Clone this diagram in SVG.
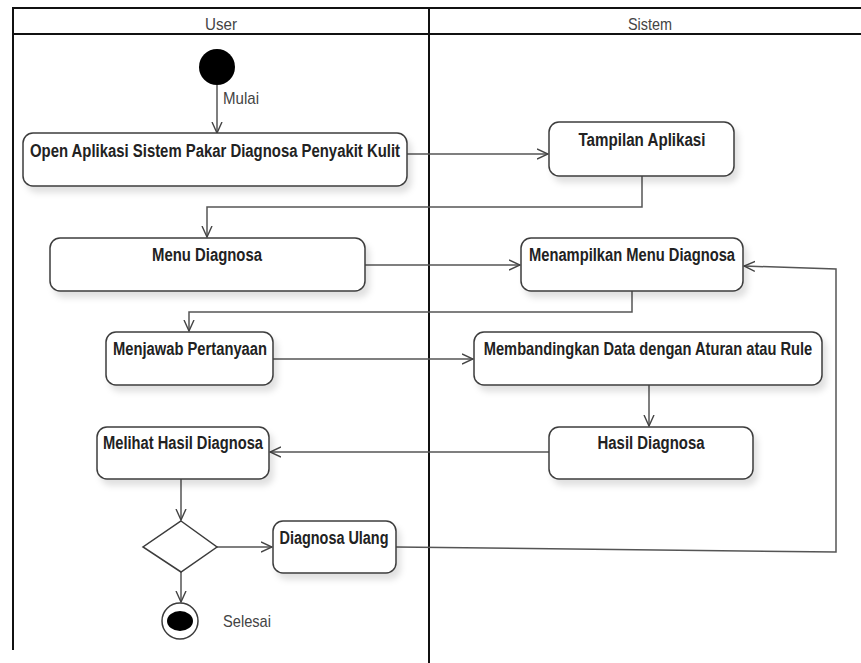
<svg xmlns="http://www.w3.org/2000/svg" width="861" height="663" viewBox="0 0 861 663">
  <defs>
    <marker id="arrow" viewBox="0 0 12 12" refX="11" refY="6" markerWidth="12" markerHeight="12" markerUnits="userSpaceOnUse" orient="auto">
      <path d="M0,1 L11,6 L0,11" fill="none" stroke="#444" stroke-width="1.4"/>
    </marker>
    <filter id="shadow" x="-10%" y="-20%" width="130%" height="160%">
      <feDropShadow dx="4" dy="6" stdDeviation="3" flood-color="#000" flood-opacity="0.12"/>
    </filter>
  </defs>
  <style>
    .frame { fill: none; stroke: #111; stroke-width: 2; }
    .box { fill: #fff; stroke: #3c3c3c; stroke-width: 1.5; filter: url(#shadow); }
    .label { font-family: "Liberation Sans", Arial, sans-serif; font-size: 18px; font-weight: bold; fill: #222; text-anchor: middle; }
    .plain { font-family: "Liberation Sans", Arial, sans-serif; font-size: 17px; fill: #444; }
    .conn { fill: none; stroke: #555; stroke-width: 1.5; marker-end: url(#arrow); }
  </style>
  <rect width="861" height="663" fill="#fff"/>

  <!-- swimlane frame -->
  <g id="lanes">
    <path class="frame" d="M13,650 V8 H862"/>
    <line class="frame" x1="13" y1="34" x2="862" y2="34"/>
    <line class="frame" x1="429" y1="8" x2="429" y2="663"/>
    <text class="plain" x="221" y="30" text-anchor="middle" textLength="32" lengthAdjust="spacingAndGlyphs">User</text>
    <text class="plain" x="650" y="30" text-anchor="middle" textLength="44" lengthAdjust="spacingAndGlyphs">Sistem</text>
  </g>

  <!-- connectors -->
  <g id="connectors">
    <line class="conn" x1="217" y1="85" x2="217" y2="133"/>
    <path class="conn" d="M407,154 H548"/>
    <path class="conn" d="M642,176 V207 H207 V237"/>
    <path class="conn" d="M365,265 H520"/>
    <path class="conn" d="M632,291 V312 H189 V331"/>
    <path class="conn" d="M273,359 H473"/>
    <path class="conn" d="M649,385 V426"/>
    <path class="conn" d="M549,452 H270"/>
    <path class="conn" d="M181,479 V520"/>
    <path class="conn" d="M217,547 H272"/>
    <path class="conn" d="M396,547 L836,552 V269 L744,266"/>
    <path class="conn" d="M181,572 V602"/>
    <text class="plain" x="223" y="104" textLength="36" lengthAdjust="spacingAndGlyphs">Mulai</text>
  </g>

  <g id="start">
    <circle cx="217" cy="67" r="18" fill="#000"/>
  </g>

  <g id="open-app">
    <rect class="box" x="23" y="133" width="384" height="53" rx="10"/>
    <text class="label" x="215" y="157" textLength="370" lengthAdjust="spacingAndGlyphs">Open Aplikasi Sistem Pakar Diagnosa Penyakit Kulit</text>
  </g>

  <g id="tampilan-aplikasi">
    <rect class="box" x="549" y="122" width="185" height="54" rx="10"/>
    <text class="label" x="642" y="146" textLength="127" lengthAdjust="spacingAndGlyphs">Tampilan Aplikasi</text>
  </g>

  <g id="menu-diagnosa">
    <rect class="box" x="50" y="238" width="315" height="53" rx="10"/>
    <text class="label" x="207" y="261" textLength="110" lengthAdjust="spacingAndGlyphs">Menu Diagnosa</text>
  </g>

  <g id="menampilkan-menu">
    <rect class="box" x="521" y="238" width="222" height="53" rx="10"/>
    <text class="label" x="632" y="261" textLength="206" lengthAdjust="spacingAndGlyphs">Menampilkan Menu Diagnosa</text>
  </g>

  <g id="menjawab">
    <rect class="box" x="106" y="332" width="167" height="53" rx="10"/>
    <text class="label" x="190" y="355" textLength="154" lengthAdjust="spacingAndGlyphs">Menjawab Pertanyaan</text>
  </g>

  <g id="membandingkan">
    <rect class="box" x="474" y="332" width="348" height="53" rx="10"/>
    <!-- long label: squeezed horizontally so it sits inside the box -->
    <text class="label" transform="translate(648,355) scale(0.815,1)" x="0" y="0">Membandingkan Data dengan Aturan atau Rule</text>
  </g>

  <g id="hasil-diagnosa">
    <rect class="box" x="549" y="427" width="204" height="52" rx="10"/>
    <text class="label" x="651" y="449" textLength="107" lengthAdjust="spacingAndGlyphs">Hasil Diagnosa</text>
  </g>

  <g id="melihat-hasil">
    <rect class="box" x="97" y="427" width="172" height="52" rx="10"/>
    <text class="label" x="183" y="449" textLength="160" lengthAdjust="spacingAndGlyphs">Melihat Hasil Diagnosa</text>
  </g>

  <g id="decision">
    <polygon points="181,521 217,547 181,572 143,547" fill="#fff" stroke="#3c3c3c" stroke-width="1.5"/>
  </g>

  <g id="diagnosa-ulang">
    <rect class="box" x="273" y="521" width="123" height="52" rx="10"/>
    <text class="label" x="334" y="544" textLength="109" lengthAdjust="spacingAndGlyphs">Diagnosa Ulang</text>
  </g>

  <g id="end">
    <circle cx="180" cy="621" r="18" fill="#fff" stroke="#3c3c3c" stroke-width="1.5"/>
    <ellipse cx="180" cy="621" rx="13" ry="10" fill="#000"/>
    <text class="plain" x="223" y="627" textLength="48" lengthAdjust="spacingAndGlyphs">Selesai</text>
  </g>
</svg>
